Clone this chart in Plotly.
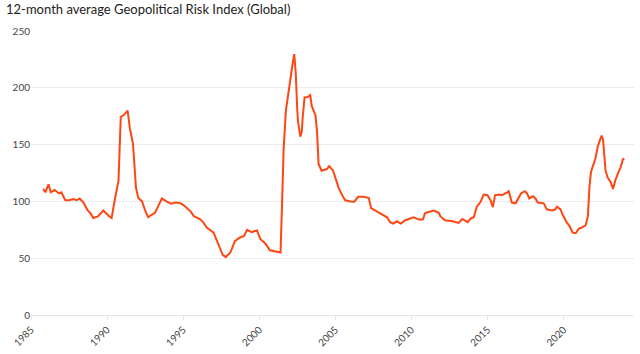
import plotly.graph_objects as go

years = [1985.8, 1985.95, 1986.15, 1986.3, 1986.55, 1986.85, 1987.0, 1987.25, 1987.5, 1987.8,
         1988.0, 1988.2, 1988.45, 1988.7, 1988.9, 1989.1, 1989.4, 1989.75, 1990.1, 1990.3,
         1990.5, 1990.75, 1990.9, 1991.1, 1991.35, 1991.5, 1991.7, 1991.9, 1992.05, 1992.3,
         1992.5, 1992.7, 1992.9, 1993.15, 1993.4, 1993.6, 1993.9, 1994.2, 1994.5, 1994.8,
         1995.0, 1995.25, 1995.5, 1995.7, 1996.1, 1996.3, 1996.55, 1997.0, 1997.2, 1997.4,
         1997.6, 1997.8, 1998.1, 1998.4, 1998.7, 1999.0, 1999.2, 1999.5, 1999.85, 2000.07,
         2000.4, 2000.7, 2001.05, 2001.4, 2001.5, 2001.6, 2001.75, 2001.99, 2002.2, 2002.3,
         2002.4, 2002.5, 2002.55, 2002.7, 2002.8, 2002.85, 2002.98, 2003.2, 2003.35, 2003.45,
         2003.7, 2003.8, 2003.9, 2004.1, 2004.45, 2004.6, 2004.85, 2005.1, 2005.2, 2005.45,
         2005.65, 2006.0, 2006.25, 2006.5, 2006.85, 2007.2, 2007.35, 2007.75, 2008.2, 2008.4,
         2008.6, 2008.8, 2009.05, 2009.3, 2009.6, 2010.15, 2010.5, 2010.75, 2010.9, 2011.47,
         2011.8, 2011.9, 2012.2, 2012.7, 2013.1, 2013.35, 2013.7, 2013.9, 2014.1, 2014.3,
         2014.55, 2014.75, 2015.0, 2015.2, 2015.35, 2015.5, 2015.75, 2015.95, 2016.3, 2016.4,
         2016.6, 2016.85, 2017.2, 2017.45, 2017.6, 2017.75, 2018.0, 2018.15, 2018.3, 2018.7,
         2018.9, 2019.25, 2019.45, 2019.57, 2019.8, 2019.95, 2020.2, 2020.4, 2020.6, 2020.8,
         2021.0, 2021.2, 2021.45, 2021.6, 2021.7, 2021.8, 2021.9, 2022.1, 2022.25, 2022.4,
         2022.5, 2022.6, 2022.7, 2022.76, 2022.9, 2023.1, 2023.25, 2023.4, 2023.6, 2023.75,
         2023.9, 2024.0]

gpr = [111, 108, 115, 108, 110, 107, 108, 101, 101, 102,
       101, 102.6, 99, 92.6, 89.7, 85.4, 86.8, 92, 87.4, 85.4,
       101, 118, 174.5, 176, 180, 164, 151, 112, 103, 100,
       92, 86, 88, 90, 97, 102.6, 100, 98, 99, 98.5,
       97, 94, 91, 87, 84.5, 82, 77, 72.5, 66, 58,
       53, 51, 55, 65, 68, 69.6, 75, 73, 74.5, 67,
       63, 57, 56, 55, 98, 145, 180, 204, 221.6, 229.6,
       213, 180, 170, 157, 162, 173, 191.5, 192, 193.5, 184,
       175.6, 161, 133, 127, 128.5, 131, 127, 117, 112.6, 105.5,
       101, 100, 99.7, 104, 104, 103, 94, 91, 87, 86,
       81.7, 80.5, 82.5, 80.5, 83.4, 86, 84, 84, 89.7, 92,
       90, 87, 83.4, 82.5, 81, 84.5, 81.7, 85, 86, 95.4,
       99.7, 106, 105.5, 101, 95, 105.5, 106, 105.5, 108, 109,
       99, 98.3, 107, 109, 107, 102.6, 104.6, 102.6, 99, 98.3,
       93, 92, 93, 95.4, 93, 88, 81.7, 78, 72.5, 72,
       76, 77, 79, 87, 112.6, 125.5, 130, 138, 148.5, 155.6,
       158, 154, 141, 127, 121, 117, 111, 118.4, 125.5, 130,
       137, 137.5]

x_ticks = [1985, 1990, 1995, 2000, 2005, 2010, 2015, 2020]
y_ticks = [0, 50, 100, 150, 200, 250]
title = "12-month average Geopolitical Risk Index (Global)"

fig = go.Figure()
fig.add_trace(go.Scatter(x=years, y=gpr, mode="lines",
                         line=dict(color="#ff4713", width=2), hoverinfo="skip"))

fig.update_layout(
    width=640, height=354,
    margin=dict(l=31, r=6, t=31, b=33),
    paper_bgcolor="white", plot_bgcolor="white",
    font=dict(family="Lato", color="#333333"),
    showlegend=False,
    title=dict(text=title, xref="container", yref="container", x=6/640, xanchor="left",
               y=1 - 9/354, yanchor="middle", font=dict(size=13, color="#222222")),
    xaxis=dict(range=[1985, 2024.63], tickvals=x_ticks, ticktext=[str(v) for v in x_ticks],
               tickangle=-45, showgrid=False, zeroline=False, showline=True,
               linecolor="#e6e6e6", linewidth=1, ticks="outside", ticklen=4,
               tickcolor="#e6e6e6", tickfont=dict(size=10, color="#444444")),
    yaxis=dict(range=[0, 250], tickvals=y_ticks, showgrid=True, gridcolor="#ececec",
               gridwidth=1, zeroline=False, showline=False, ticks="",
               tickfont=dict(size=10, color="#444444")),
)

fig.write_html("out.html")
